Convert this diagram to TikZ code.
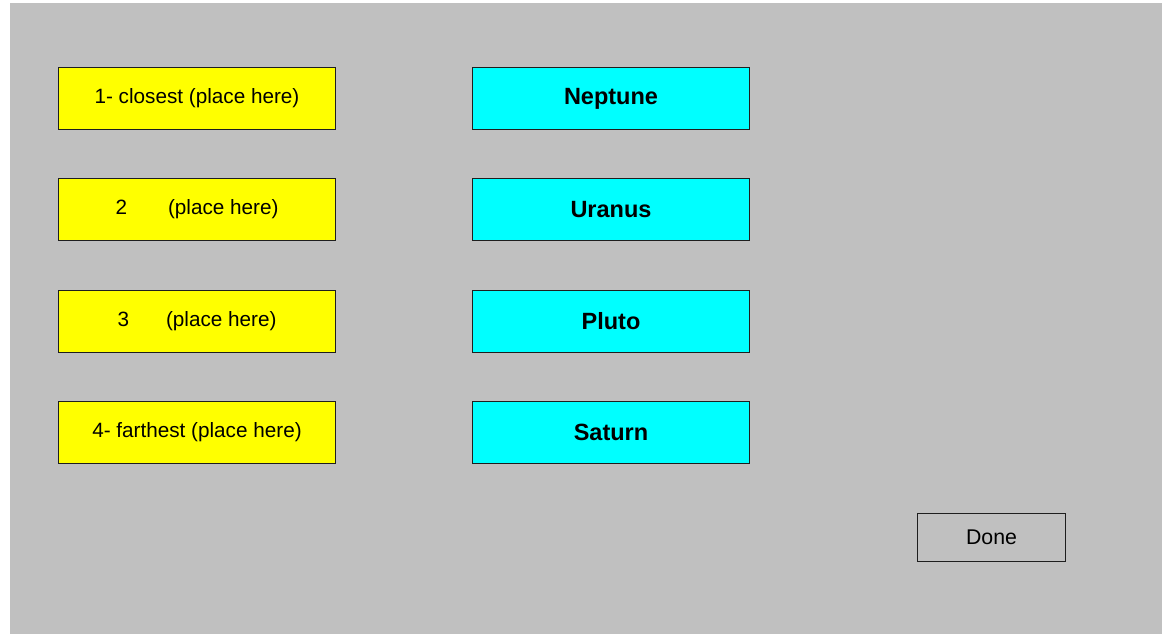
\documentclass[tikz,border=0pt]{standalone}
\usepackage{fontspec}
\setmainfont{Liberation Sans}
\definecolor{winbg}{RGB}{192,192,192}
\definecolor{slotyellow}{RGB}{255,255,0}
\definecolor{planetcyan}{RGB}{0,255,255}
\definecolor{edgegray}{RGB}{30,30,30}
\tikzset{
  slotbox/.style={draw=edgegray, line width=1.7pt, fill=slotyellow, minimum width=277pt, minimum height=62pt, inner sep=0pt, font=\fontsize{20.7}{24}\selectfont},
  planetbox/.style={draw=edgegray, line width=1.7pt, fill=planetcyan, minimum width=277pt, minimum height=62pt, inner sep=0pt, font=\fontsize{23.5}{26}\selectfont\bfseries},
  donebox/.style={draw=edgegray, line width=1.5pt, fill=winbg, minimum width=148pt, minimum height=48pt, inner sep=0pt, font=\fontsize{21.3}{24}\selectfont}
}
\begin{document}
\begin{tikzpicture}[x=1pt,y=-1pt]
\useasboundingbox (0,0) rectangle (1165,634);
\fill[white] (0,0) rectangle (1165,634);
\fill[winbg] (10,3) rectangle (1162,634);
\node[slotbox] (s1) at (197,98.5) {1- closest (place here)};
\node[slotbox] (s2) at (197,209.5) {2\hspace{41pt}(place here)};
\node[slotbox] (s3) at (197,321.5) {3\hspace{37pt}(place here)};
\node[slotbox] (s4) at (197,432.5) {4- farthest (place here)};
\node[planetbox] (p1) at (611,98.5) {Neptune};
\node[planetbox] (p2) at (611,209.5) {Uranus};
\node[planetbox] (p3) at (611,321.5) {Pluto};
\node[planetbox] (p4) at (611,432.5) {Saturn};
\node[donebox] (done) at (991.5,537.5) {Done};
\end{tikzpicture}
\end{document}
